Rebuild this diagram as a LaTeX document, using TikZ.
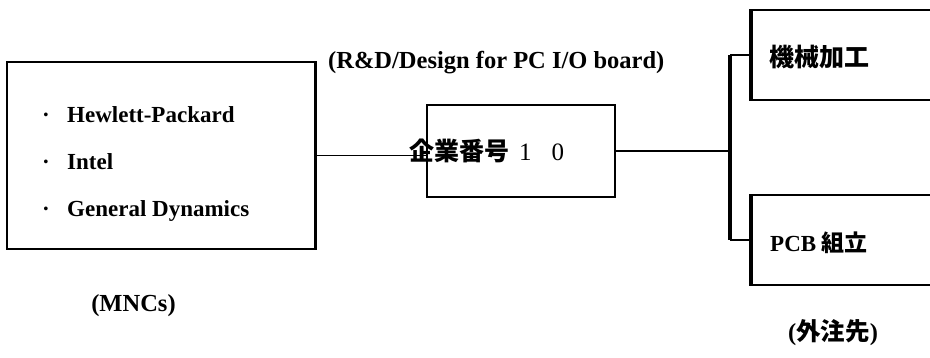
\documentclass[tikz,border=0pt]{standalone}
\usepackage{fontspec}
\setmainfont{Liberation Serif}
\newfontfamily\cjk{Noto Sans CJK JP}
\begin{document}
\begin{tikzpicture}[x=1pt,y=-1pt,
  box/.style={draw, line width=1.6pt, inner sep=0pt},
  conn/.style={line width=1.7pt},
  thickedge/.style={line width=3.5pt},
  lbl/.style={font=\fontsize{23}{26}\selectfont\bfseries, inner sep=0pt},
  biglbl/.style={font=\fontsize{24.5}{27}\selectfont\bfseries, inner sep=0pt},
  cj/.style={font=\fontsize{25}{28}\selectfont\bfseries\cjk, inner sep=0pt}]
\clip (0,0) rectangle (930,357);
\fill[white] (0,0) rectangle (930,357);
% left box (MNCs)
\node[box, minimum width=308pt, minimum height=187pt] (mnc) at (161,155.5) {};
\draw[line width=3pt] (mnc.north east) -- (mnc.south east);
\node[lbl, anchor=base] (b1) at (46,122) {·};
\node[lbl, anchor=base] (b2) at (46,169) {·};
\node[lbl, anchor=base] (b3) at (46,216) {·};
\node[lbl, anchor=base west] (t1) at (67,122) {Hewlett-Packard};
\node[lbl, anchor=base west] (t2) at (67,169) {Intel};
\node[lbl, anchor=base west] (t3) at (67,216) {General Dynamics};
\node[biglbl, anchor=base] (mncl) at (133.5,311) {(MNCs)};
% middle box
\node[box, minimum width=188pt, minimum height=92pt] (co) at (521,151) {};
\node[cj, anchor=base west] (cot) at (409,160) {企業番号{\rmfamily\mdseries\hspace{10pt}1\hspace{20pt}0}};
\node[biglbl, anchor=base west] (rd) at (328,68) {(R\&D/Design for PC I/O board)};
\draw[conn] (mnc.east) -- (mnc.east -| co.west);
% right side
\coordinate (bus) at (730,150);
\node[box, minimum width=208pt, minimum height=90pt] (mk) at (856,55) {};
\node[box, minimum width=208pt, minimum height=90pt] (pcb) at (856,240) {};
\draw[thickedge] (mk.north west) -- (mk.south west);
\draw[thickedge] (pcb.north west) -- (pcb.south west);
\draw[conn] (co.east) -- (co.east -| bus);
\draw[thickedge] (bus |- mk.west) -- (bus |- pcb.west);
\draw[conn] (bus |- mk.west) -- (mk.west);
\draw[conn] (bus |- pcb.west) -- (pcb.west);
\node[cj, anchor=west] (mkt) at (769,57) {機械加工};
\node[lbl, anchor=west] (pcbt) at (770,243) {PCB {\cjk 組立}};
\node[biglbl] (gai) at (833,333) {({\cjk 外注先})};
\end{tikzpicture}
\end{document}
